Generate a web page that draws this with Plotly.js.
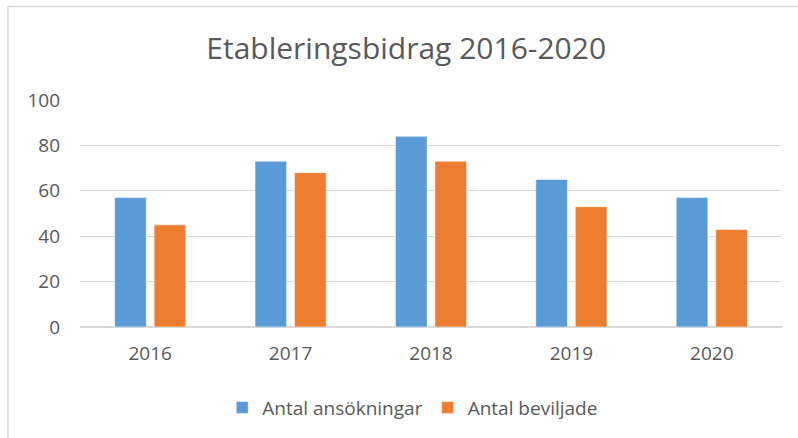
<!DOCTYPE html>
<html>
<head>
<meta charset="utf-8">
<script src="https://cdn.plot.ly/plotly-3.0.1.min.js"></script>
<style>html,body{margin:0;padding:0;background:#fff;}#chart{width:798px;height:438px;}</style>
</head>
<body>
<div id="chart"></div>
<script>
const years = ['2016', '2017', '2018', '2019', '2020'];
const ansokningar = [57, 73, 84, 65, 57];
const beviljade = [45, 68, 73, 53, 43];
const seriesNames = ['Antal ansökningar', 'Antal beviljade'];
const yTicks = [0, 20, 40, 60, 80, 100];

const FONT = 'Open Sans, Liberation Sans, sans-serif';
const traces = [
  {type: 'bar', x: years, y: ansokningar, name: seriesNames[0],
   marker: {color: '#5B9BD5', line: {color: '#ffffff', width: 0.5}}},
  {type: 'bar', x: years, y: beviljade, name: seriesNames[1],
   marker: {color: '#ED7D31', line: {color: '#ffffff', width: 0.5}}}
];
const layout = {
  width: 798, height: 438,
  margin: {l: 80, r: 16, t: 100, b: 111},
  paper_bgcolor: '#ffffff', plot_bgcolor: '#ffffff',
  font: {family: FONT, color: '#595959', size: 19},
  title: {text: 'Etableringsbidrag 2016-2020', x: 0.509, xanchor: 'center', y: 0.89, yanchor: 'middle',
          font: {family: FONT, size: 30, color: '#595959'}},
  barmode: 'group', bargap: 0.437, bargroupgap: 0.2,
  xaxis: {type: 'category', showgrid: false, zeroline: false, showline: false, ticks: '',
          ticklabelstandoff: 13, tickfont: {size: 19, color: '#595959'}},
  yaxis: {range: [0, 100], tickvals: yTicks, ticktext: yTicks.map(String), showgrid: true,
          gridcolor: '#D9D9D9', gridwidth: 1, zeroline: true, zerolinecolor: '#D9D9D9', zerolinewidth: 1.5,
          showline: false, ticks: '', ticklen: 0, ticklabelstandoff: 19,
          tickfont: {size: 19, color: '#595959'}, automargin: false},
  legend: {orientation: 'h', x: 0.474, xanchor: 'center', y: -0.355, yanchor: 'middle',
           font: {size: 19, color: '#595959'}, itemclick: false},
  shapes: [
    {type: 'line', xref: 'paper', yref: 'paper', x0: -0.1026, x1: -0.1026, y0: 1.412, y1: -0.6,
     line: {color: '#D9D9D9', width: 1.5}},
    {type: 'line', xref: 'paper', yref: 'paper', x0: -0.1026, x1: 1.03, y0: 1.412, y1: 1.412,
     line: {color: '#D9D9D9', width: 1.5}}
  ],
  showlegend: true
};
Plotly.newPlot('chart', traces, layout, {displayModeBar: false, staticPlot: true});
</script>
</body>
</html>
